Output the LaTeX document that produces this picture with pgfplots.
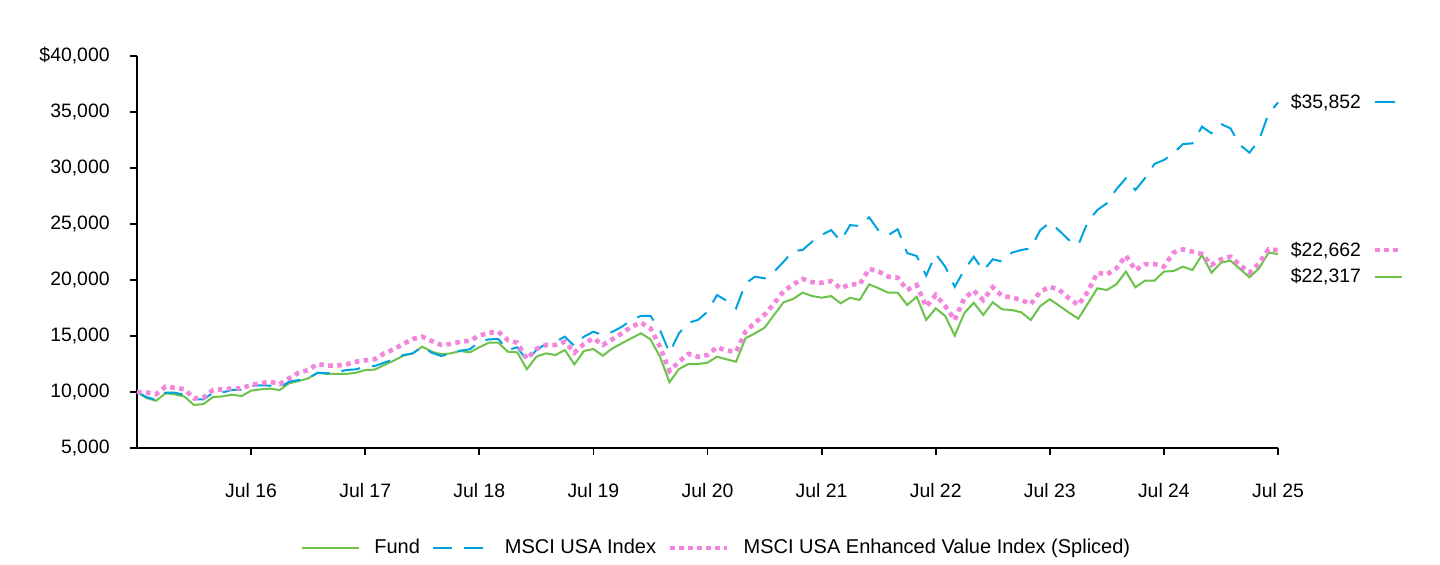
\documentclass[border=0pt]{standalone}
\usepackage{fontspec}
\setmainfont{Liberation Sans}
\usepackage{pgfplots}
\usepackage{pgfplotstable}
\pgfplotsset{compat=1.18}
\definecolor{fundgreen}{RGB}{108,194,74}
\definecolor{idxblue}{RGB}{0,163,224}
\definecolor{evpink}{RGB}{242,133,220}

\pgfplotstableread{
m fund msci ev
0 10000 10000 10000
1 9460 9550 9950
2 9220 9300 9800
3 9880 9940 10470
4 9790 9940 10380
5 9580 9730 10240
6 8840 9340 9430
7 8930 9340 9520
8 9550 9940 10180
9 9610 9970 10240
10 9760 10180 10330
11 9640 10180 10330
12 10120 10540 10630
13 10240 10600 10780
14 10300 10570 10920
15 10180 10380 10710
16 10780 10920 11220
17 10980 11070 11720
18 11220 11220 11960
19 11720 11720 12500
20 11610 11670 12350
21 11610 11760 12350
22 11610 11960 12470
23 11720 12020 12700
24 11960 12260 12830
25 12000 12320 12920
26 12410 12620 13450
27 12800 12920 13810
28 13240 13300 14290
29 13450 13450 14730
30 14050 14050 14940
31 13600 13510 14550
32 13370 13210 14200
33 13450 13450 14290
34 13660 13690 14490
35 13540 13810 14580
36 13990 14490 15030
37 14400 14700 15290
38 14400 14730 15380
39 13600 13750 14640
40 13540 13990 14400
41 12030 12800 12950
42 13150 13750 13840
43 13450 14290 14200
44 13300 14490 14200
45 13750 14940 14490
46 12470 14110 13510
47 13660 14940 14290
48 13840 15380 14800
49 13240 15090 14200
50 13900 15380 14710
51 14350 15830 15240
52 14800 16430 15830
53 15240 16790 16190
54 14710 16790 15690
55 13150 15540 14050
56 10870 13510 11880
57 12050 15240 12710
58 12500 16190 13400
59 12500 16430 13150
60 12620 17170 13300
61 13150 18660 14000
62 12920 18150 13700
63 12700 17470 13600
64 14800 19700 15400
65 15240 20300 16200
66 15740 20150 16900
67 16880 20740 17900
68 18010 21630 19000
69 18300 22590 19600
70 18870 22680 20100
71 18570 23420 19800
72 18420 24020 19750
73 18570 24460 19900
74 17920 23480 19260
75 18420 24900 19620
76 18210 24820 19600
77 19610 25600 21000
78 19260 24400 20750
79 18870 24000 20300
80 18870 24530 20210
81 17770 22400 19110
82 18510 22140 19550
83 16430 20400 17620
84 17470 22320 18660
85 16790 21190 17680
86 15030 19400 16430
87 17030 20890 18370
88 17970 22080 19050
89 16880 20830 18210
90 18010 21850 19350
91 17380 21640 18570
92 17320 22440 18450
93 17120 22680 18210
94 16430 22830 17860
95 17680 24460 18960
96 18280 25120 19400
97 17700 24400 19110
98 17100 23580 18370
99 16550 23130 17770
100 17900 25210 18960
101 19260 26250 20650
102 19110 26850 20500
103 19620 28100 21040
104 20750 29080 22170
105 19350 28040 20890
106 19940 29080 21400
107 19940 30360 21430
108 20750 30710 21190
109 20800 31310 22440
110 21190 32140 22740
111 20890 32200 22530
112 22230 33690 22320
113 20650 33100 21340
114 21550 33930 21850
115 21730 33540 22080
116 20990 32050 21340
117 20240 31370 20650
118 21040 32500 21490
119 22440 34830 22740
120 22317 35852 22662
}\datatable

\begin{document}
\fontsize{9.7}{11.6}\selectfont
\begin{tikzpicture}
\path[use as bounding box] (0,0) rectangle (720pt,282pt);
\begin{axis}[
  at={(68.5pt,58pt)}, anchor=south west,
  scale only axis, width=570.5pt, height=196pt,
  xmin=0, xmax=120, ymin=5000, ymax=40000,
  clip=false, scaled y ticks=false,
  axis x line*=bottom, axis y line*=left,
  axis line style={line width=0.9pt, black},
  tick align=outside, major tick length=3.5pt,
  tick style={line width=0.9pt, black},
  xtick={12,24,36,48,60,72,84,96,108,120},
  xticklabels={Jul 16,Jul 17,Jul 18,Jul 19,Jul 20,Jul 21,Jul 22,Jul 23,Jul 24,Jul 25},
  ytick={5000,10000,15000,20000,25000,30000,35000,40000},
  yticklabels={{5,000},{10,000},{15,000},{20,000},{25,000},{30,000},{35,000},{\$40,000}},
  ticklabel style={font=\fontsize{9.7}{11.6}\selectfont},
  yticklabel style={anchor=east, inner sep=0pt, xshift=-10pt},
  xticklabel style={anchor=north, inner sep=0pt, yshift=-14pt},
  legend style={draw=none, at={(0.509,-0.255)}, anchor=center,
    font=\fontsize{10}{12}\selectfont, legend columns=3,
    /tikz/every odd column/.append style={column sep=5pt},
    /tikz/every even column/.append style={column sep=4pt},
    inner sep=0pt},
  legend image code/.code={\draw[#1] (0pt,0pt) -- (28.5pt,0pt);},
]
\addplot[fundgreen, line width=1pt] table[x=m,y=fund]{\datatable};
\addlegendentry{Fund}
\addplot[idxblue, line width=1pt, dash pattern=on 9.5pt off 6pt] table[x=m,y=msci]{\datatable};
\addlegendentry{MSCI USA Index}
\addplot[evpink, line width=2.3pt, dash pattern=on 2.3pt off 2.2pt] table[x=m,y=ev]{\datatable};
\addlegendentry{MSCI USA Enhanced Value Index (Spliced)}
% end-value markers
\addplot[idxblue, line width=1pt, forget plot] coordinates {(130.2,35852) (132.3,35852)};
\addplot[evpink, line width=2.3pt, dash pattern=on 2.3pt off 2.2pt, forget plot] coordinates {(130.2,22662) (133,22662)};
\addplot[fundgreen, line width=1pt, forget plot] coordinates {(130.2,20270) (133,20270)};
\node[anchor=west, inner sep=0pt] at (axis cs:121.3,35852) {\$35,852};
\node[anchor=west, inner sep=0pt] at (axis cs:121.3,22662) {\$22,662};
\node[anchor=west, inner sep=0pt] at (axis cs:121.3,20270) {\$22,317};
\end{axis}
\end{tikzpicture}
\end{document}
